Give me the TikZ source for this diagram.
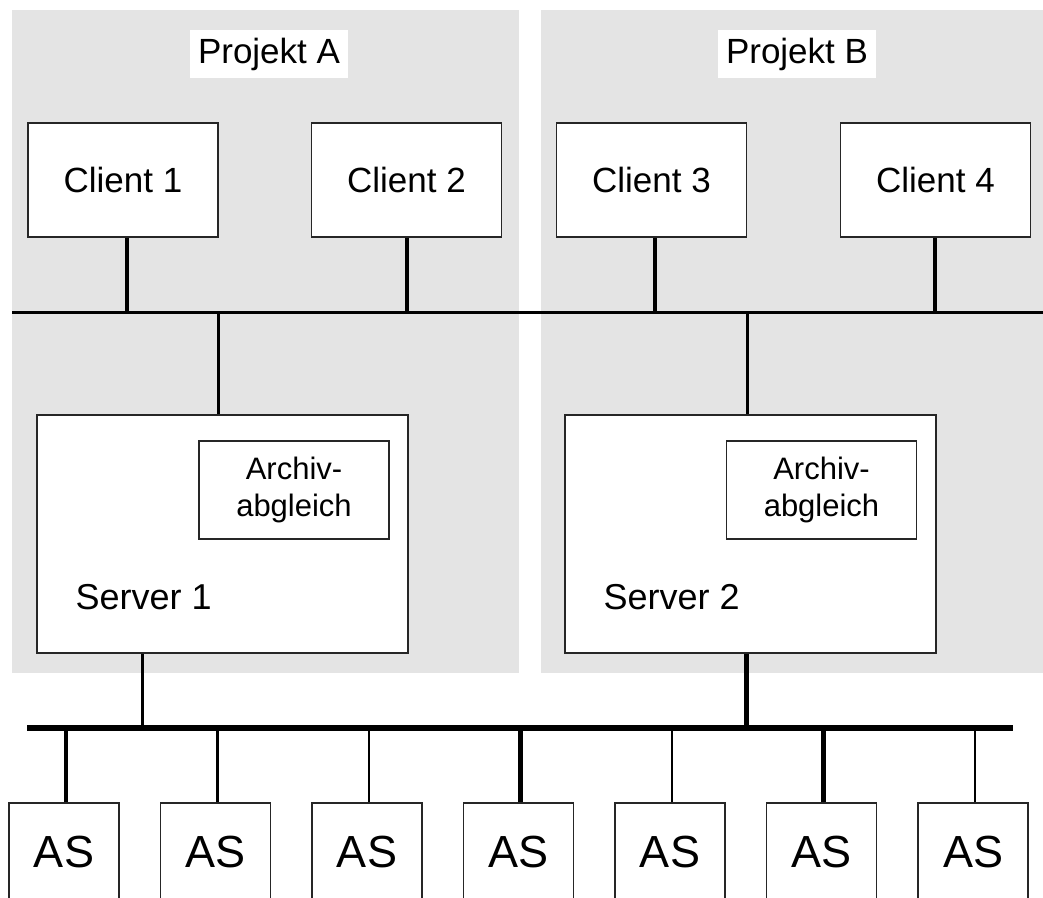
\documentclass[tikz,border=0pt]{standalone}
\usepackage{fontspec}
\setmainfont{Liberation Sans}
\definecolor{panelgray}{RGB}{228,228,228}
\begin{document}
\begin{tikzpicture}[x=1pt, y=-1pt,
            panel/.style={fill=panelgray},
            projtag/.style={fill=white, inner sep=0pt, minimum width=158pt, minimum height=48pt, font=\fontsize{35}{40}\selectfont},
            client/.style={draw=black!85, line width=1.8pt, fill=white, minimum width=190pt, minimum height=114pt, inner sep=0pt, font=\fontsize{35}{40}\selectfont},
            server/.style={draw=black!85, line width=1.8pt, fill=white, minimum width=371pt, minimum height=238pt, inner sep=0pt},
            archiv/.style={draw=black!85, line width=1.5pt, minimum width=190pt, minimum height=98pt, inner sep=0pt, align=center, font=\fontsize{31}{37}\selectfont},
            asbox/.style={draw=black!85, line width=1.5pt, fill=white, minimum width=110pt, minimum height=97pt, inner sep=0pt, font=\fontsize{45}{50}\selectfont},
            bus/.style={line width=3pt}
            ]
            \clip (0,0) rectangle (1043,897);
            \fill[panel] (12,10) rectangle (519,673);
            \fill[panel] (541,10) rectangle (1043,673);
            \node[projtag] (pa) at (269,54) {Projekt A};
            \node[projtag] (pb) at (797,54) {Projekt B};

            \node[client] (c1) at (123,180) {Client 1};
            \node[client] (c2) at (406.5,180) {Client 2};
            \node[client] (c3) at (651.5,180) {Client 3};
            \node[client] (c4) at (935.5,180) {Client 4};

            \coordinate (busl) at (12,312);
            \coordinate (busr) at (1043,312);
            \draw[bus] (busl) -- (busr);
            \foreach \c/\dx in {c1/4, c2/0.5, c3/3.5, c4/-0.5}
                \draw[line width=4.5pt] ([xshift=\dx pt]\c.south) -- ([xshift=\dx pt]\c.south |- busl);

            \node[server] (s1) at (222.5,534) {};
            \node[server] (s2) at (750.5,534) {};
            \node[archiv] (a1) at (294,490) {Archiv-\\abgleich};
            \node[archiv] (a2) at (821.5,490) {Archiv-\\abgleich};
            \node[anchor=west, font=\fontsize{36}{40}\selectfont] (l1) at (72,597) {Server 1};
            \node[anchor=west, font=\fontsize{36}{40}\selectfont] (l2) at (600,597) {Server 2};
            \draw[line width=3pt] ([xshift=-4pt]s1.north) -- ([xshift=-4pt]s1.north |- busl);
            \draw[line width=3pt] ([xshift=-3.5pt]s2.north) -- ([xshift=-3.5pt]s2.north |- busl);

            \coordinate (lbusl) at (27,728);
            \coordinate (lbusr) at (1013,728);
            \draw[line width=6pt] (lbusl) -- (lbusr);
            \draw[line width=3pt] ([xshift=-80.5pt]s1.south) -- ([xshift=-80.5pt]s1.south |- lbusl);
            \draw[line width=5pt] ([xshift=-4.5pt]s2.south) -- ([xshift=-4.5pt]s2.south |- lbusl);

            \foreach \i/\lw in {1/4.5, 2/2.5, 3/2.5, 4/4.5, 5/2.5, 6/4.5, 7/2.5} {
                \node[asbox] (as\i) at ({64+151.5*(\i-1)},851.5) {AS};
                \draw[line width=\lw pt] ([xshift=2pt]as\i.north) -- ([xshift=2pt]as\i.north |- lbusl);
            }
            \end{tikzpicture}
\end{document}
